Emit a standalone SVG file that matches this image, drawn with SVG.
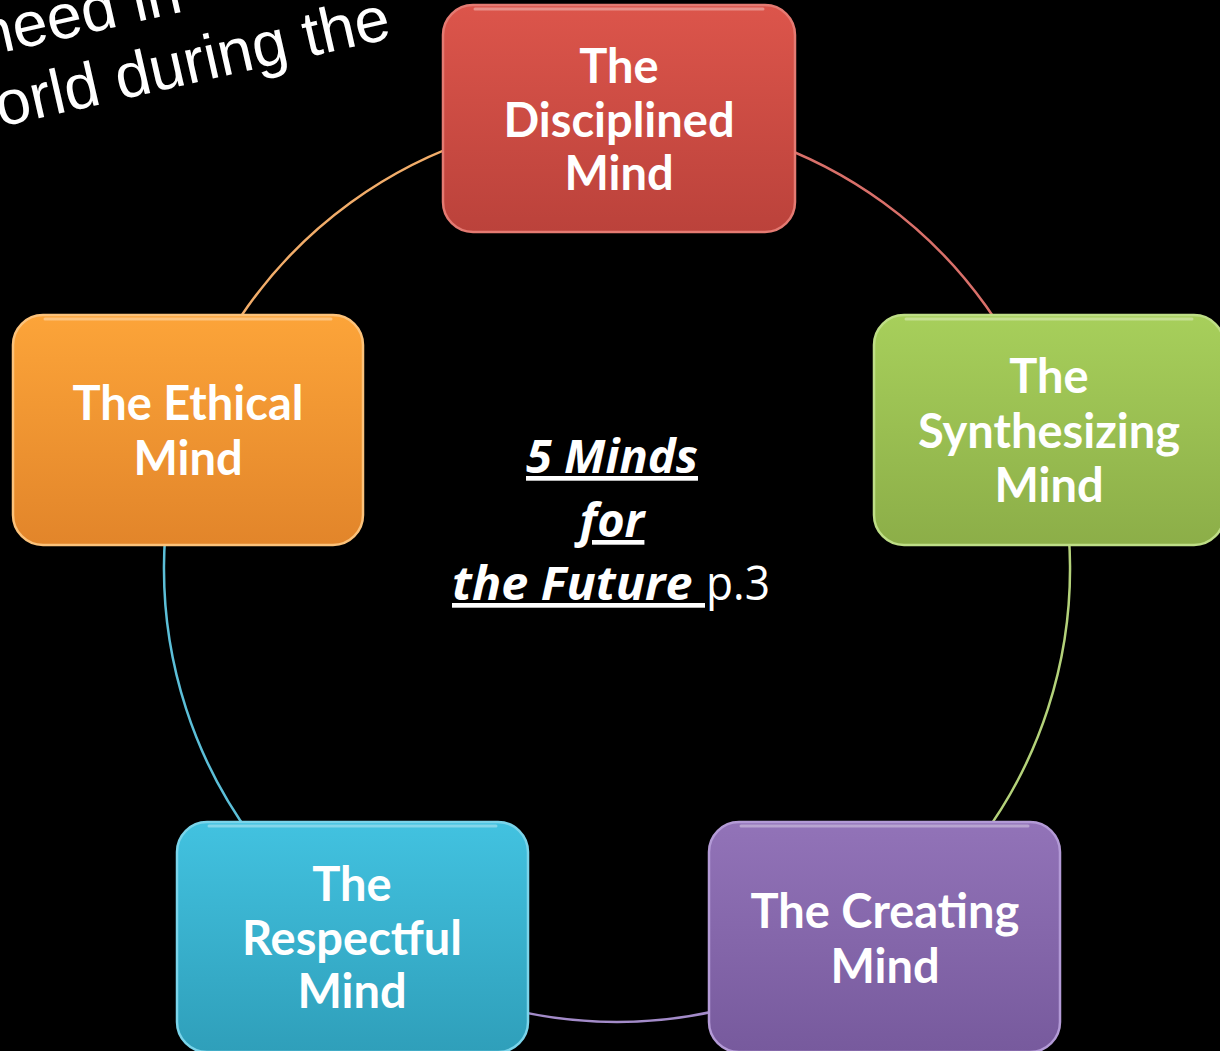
<svg xmlns="http://www.w3.org/2000/svg" width="1220" height="1051" viewBox="0 0 1220 1051">
  <defs>
    <linearGradient id="gRed" x1="0" y1="0" x2="0" y2="1">
      <stop offset="0" stop-color="#dc554b"/>
      <stop offset="1" stop-color="#bb423b"/>
    </linearGradient>
    <linearGradient id="gOrange" x1="0" y1="0" x2="0" y2="1">
      <stop offset="0" stop-color="#fca439"/>
      <stop offset="1" stop-color="#e2852a"/>
    </linearGradient>
    <linearGradient id="gGreen" x1="0" y1="0" x2="0" y2="1">
      <stop offset="0" stop-color="#a7cf5b"/>
      <stop offset="1" stop-color="#8cae48"/>
    </linearGradient>
    <linearGradient id="gCyan" x1="0" y1="0" x2="0" y2="1">
      <stop offset="0" stop-color="#42c2e0"/>
      <stop offset="1" stop-color="#2f9fba"/>
    </linearGradient>
    <linearGradient id="gPurple" x1="0" y1="0" x2="0" y2="1">
      <stop offset="0" stop-color="#9273b8"/>
      <stop offset="1" stop-color="#775a9d"/>
    </linearGradient>
    <style>
      .box { stroke-width: 2.5; }
      .hl { fill: none; stroke: #ffffff; stroke-opacity: 0.35; stroke-width: 3; stroke-linecap: round; }
      .lbl { font-family: Lato, "Open Sans", "DejaVu Sans", sans-serif; font-weight: 700; font-size: 47px; fill: #ffffff; text-anchor: middle; }
      .arc { fill: none; stroke-width: 2.5; }
      .ctr { font-family: "Open Sans", Lato, "DejaVu Sans", sans-serif; font-size: 47px; fill: #ffffff; }
      .em { font-weight: 700; font-style: italic; text-decoration: underline; }
      .note { font-family: "Liberation Sans", Arial, sans-serif; font-size: 63px; fill: #ffffff; }
    </style>
  </defs>

  <rect x="0" y="0" width="1220" height="1051" fill="#000000"/>

  <g id="note">
    <g transform="translate(-44,137) rotate(-12.8)">
      <text class="note" x="44" y="-72">need in</text>
      <text class="note" x="0" y="0">world during the</text>
    </g>
  </g>

  <g id="connectors">
    <path class="arc" stroke="#d9706a" d="M 617 116 A 453 453 0 0 1 1048.1 429.7"/>
    <path class="arc" stroke="#b4d27a" d="M 1048.1 429.7 A 453 453 0 0 1 883.9 935"/>
    <path class="arc" stroke="#a38bc9" d="M 883.9 935 A 453 453 0 0 1 350.1 935"/>
    <path class="arc" stroke="#5cbfd8" d="M 350.1 935 A 453 453 0 0 1 185.9 429.7"/>
    <path class="arc" stroke="#f2ad6a" d="M 185.9 429.7 A 453 453 0 0 1 617 116"/>
  </g>

  <g id="center-title">
    <text class="ctr em" x="612" y="473" text-anchor="middle">5 Minds</text>
    <text class="ctr em" x="612" y="537" text-anchor="middle">for</text>
    <text class="ctr em" x="452" y="600" textLength="253" lengthAdjust="spacingAndGlyphs">the Future&#160;</text>
    <text class="ctr" x="706" y="600" textLength="64" lengthAdjust="spacingAndGlyphs">p.3</text>
  </g>

  <g id="node-disciplined">
    <rect class="box" x="443" y="5" width="352" height="227" rx="30" fill="url(#gRed)" stroke="#e47a72"/>
    <path class="hl" d="M 475 9 L 763 9"/>
    <text class="lbl" x="619" y="83">The</text>
    <text class="lbl" x="619" y="137">Disciplined</text>
    <text class="lbl" x="619" y="190">Mind</text>
  </g>

  <g id="node-synthesizing">
    <rect class="box" x="874" y="315" width="350" height="230" rx="30" fill="url(#gGreen)" stroke="#bede86"/>
    <path class="hl" d="M 906 319 L 1192 319"/>
    <text class="lbl" x="1049" y="393">The</text>
    <text class="lbl" x="1049" y="448">Synthesizing</text>
    <text class="lbl" x="1049" y="502">Mind</text>
  </g>

  <g id="node-creating">
    <rect class="box" x="709" y="822" width="351" height="230" rx="30" fill="url(#gPurple)" stroke="#b39ad6"/>
    <path class="hl" d="M 741 826 L 1028 826"/>
    <text class="lbl" x="885" y="928">The Creating</text>
    <text class="lbl" x="885" y="983">Mind</text>
  </g>

  <g id="node-respectful">
    <rect class="box" x="177" y="822" width="351" height="230" rx="30" fill="url(#gCyan)" stroke="#7ad4ea"/>
    <path class="hl" d="M 209 826 L 496 826"/>
    <text class="lbl" x="352" y="901">The</text>
    <text class="lbl" x="352" y="955">Respectful</text>
    <text class="lbl" x="352" y="1008">Mind</text>
  </g>

  <g id="node-ethical">
    <rect class="box" x="13" y="315" width="350" height="230" rx="30" fill="url(#gOrange)" stroke="#fcc27a"/>
    <path class="hl" d="M 45 319 L 331 319"/>
    <text class="lbl" x="188" y="420">The Ethical</text>
    <text class="lbl" x="188" y="475">Mind</text>
  </g>
</svg>
